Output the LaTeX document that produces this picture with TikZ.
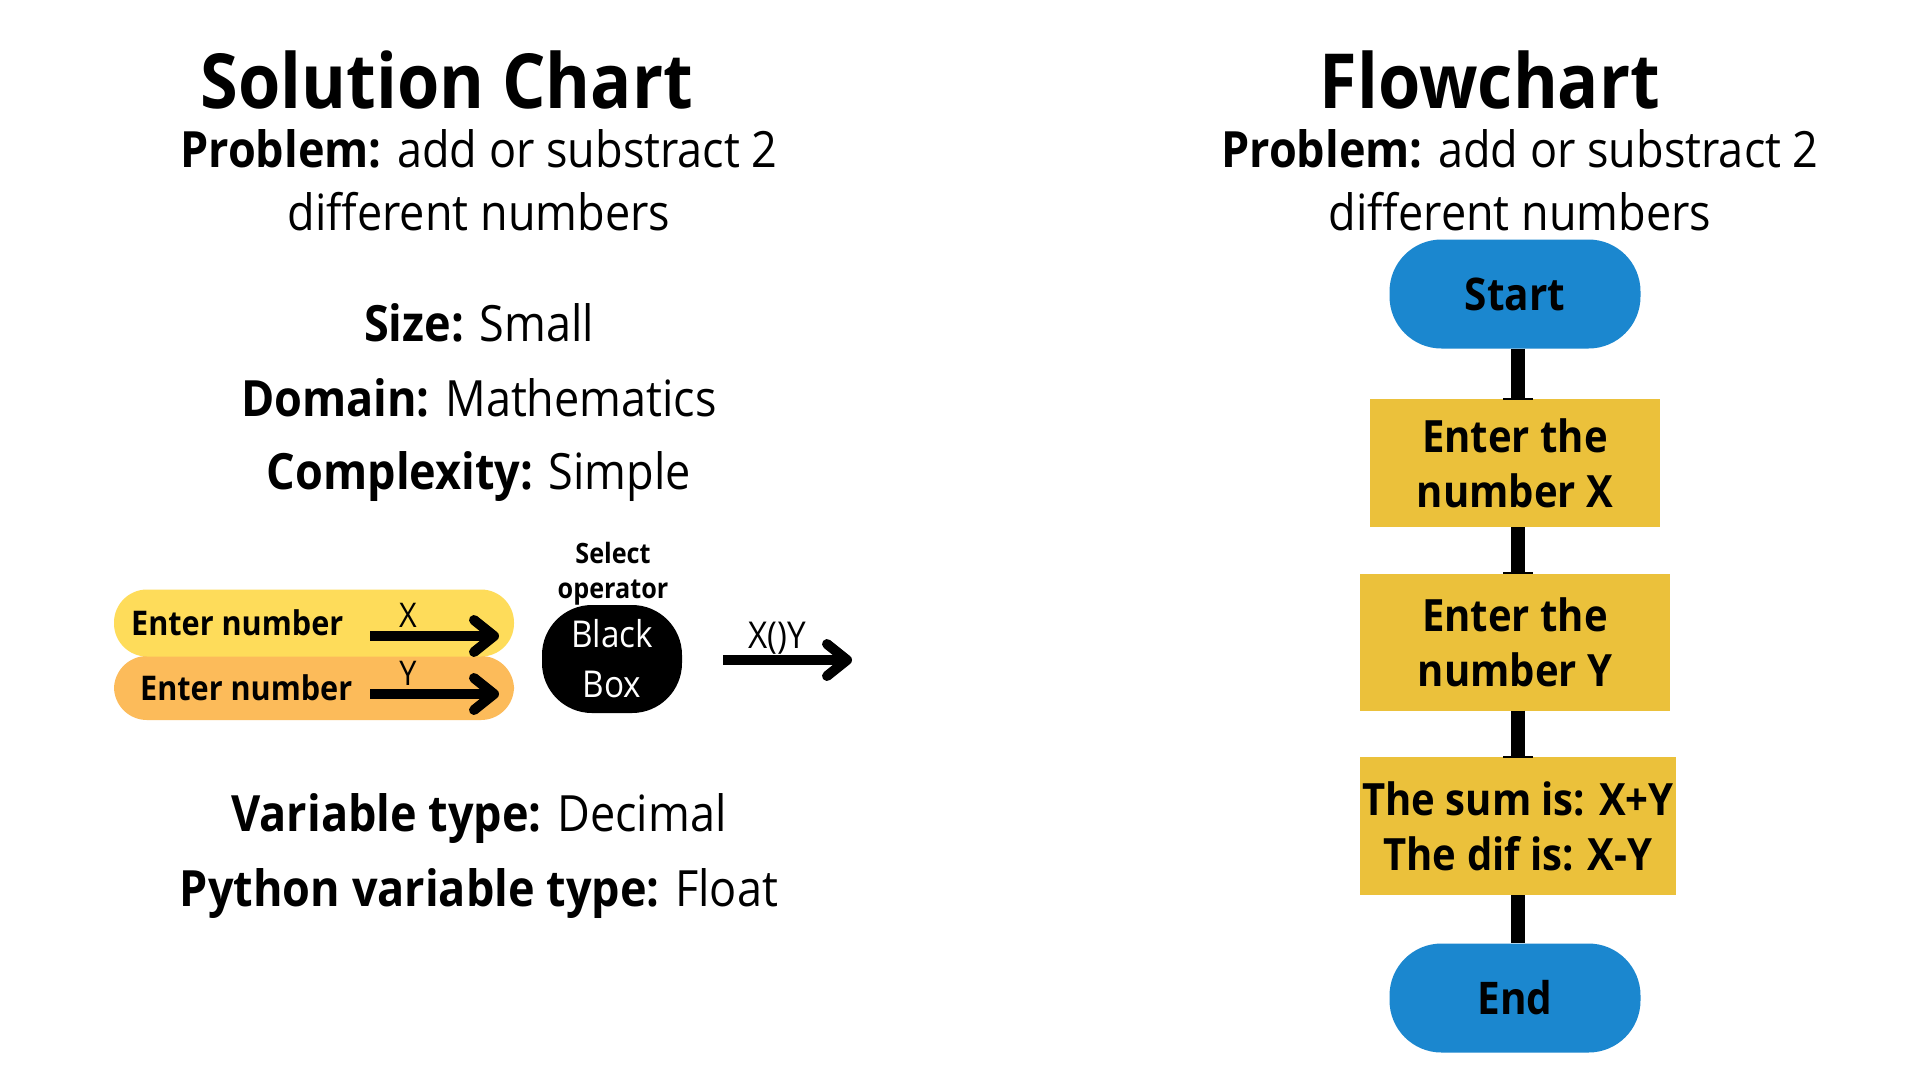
\documentclass[tikz,border=0pt]{standalone}
\usepackage{fontspec}
\setmainfont{Open Sans}[FakeStretch=0.9]
\usetikzlibrary{arrows.meta}
\definecolor{fcblue}{RGB}{27,135,207}
\definecolor{fcyellow}{RGB}{235,193,59}
\definecolor{pillyellow}{RGB}{254,220,90}
\definecolor{pillorange}{RGB}{252,187,90}
\begin{document}
\begin{tikzpicture}[x=1pt,y=-1pt,
  title/.style={font=\fontsize{76}{90}\selectfont\bfseries, anchor=base, inner sep=0},
  body/.style={font=\fontsize{50}{62}\selectfont, anchor=base, inner sep=0},
  terminal/.style={fill=fcblue, rounded corners=52pt, minimum width=251pt, minimum height=109pt, inner sep=0, font=\fontsize{45}{55}\selectfont\bfseries},
  process/.style={fill=fcyellow, inner sep=0, align=center, font=\fontsize{44.5}{55}\selectfont\bfseries},
  conn/.style={line width=14pt},
  tick/.style={line width=2pt},
  pill/.style={rounded corners=33pt, minimum width=400pt, inner sep=0},
  pilltext/.style={font=\fontsize{34}{40}\selectfont\bfseries, anchor=base west, inner sep=0},
  lbl/.style={font=\fontsize{34}{40}\selectfont, inner sep=0},
  flowarrow/.style={line width=10pt, -{Straight Barb[length=20pt, width=32pt, round]}},
  blackbox/.style={fill=black, text=white, rounded corners=50pt, minimum width=140pt, minimum height=108pt, inner sep=0, align=center, font=\fontsize{37}{50}\selectfont}
]
\fill[white] (0,0) rectangle (1920,1080);
\useasboundingbox (0,0) rectangle (1920,1080);

% ---------- Left: Solution chart ----------
\node[title] (ltitle) at (447,108) {Solution Chart};
\node[body] (lprob1) at (479,167) {\textbf{Problem:} add or substract 2};
\node[body] (lprob2) at (479,230) {different numbers};
\node[body] (size) at (479,341) {\textbf{Size:} Small};
\node[body] (domain) at (479,416) {\textbf{Domain:} Mathematics};
\node[body] (cplx) at (479,489) {\textbf{Complexity:} Simple};
\node[body] (vtype) at (479,831) {\textbf{Variable type:} Decimal};
\node[body] (ptype) at (479,906) {\textbf{Python variable type:} Float};

\node[pill, fill=pillorange, minimum height=64pt] (pillY) at (314,688) {};
\node[pill, fill=pillyellow, minimum height=67pt] (pillX) at (314,623) {};
\node[pilltext] (enterX) at (131,635) {Enter number};
\node[pilltext] (enterY) at (140,700) {Enter number};

\coordinate (xs) at (370,636);
\coordinate (xe) at (499,636);
\coordinate (ys) at (370,694);
\coordinate (ye) at (499,694);
\draw[flowarrow] (xs) -- (xe);
\draw[flowarrow] (ys) -- (ye);
\node[lbl] (lx) at (408,615) {X};
\node[lbl] (ly) at (408,673) {Y};

\node[blackbox] (bb) at (612,659) {Black\\Box};
\node[font=\fontsize{28}{35}\selectfont\bfseries, align=center, inner sep=0] (sel) at (613,574) {Select\\operator};

\coordinate (os) at (723,660);
\coordinate (oe) at (852,660);
\draw[flowarrow] (os) -- (oe);
\node[lbl, font=\fontsize{37}{44}\selectfont] (lxy) at (777,638) {X()Y};

% ---------- Right: Flowchart ----------
\node[title] (rtitle) at (1490,108) {Flowchart};
\node[body] (rprob1) at (1520,167) {\textbf{Problem:} add or substract 2};
\node[body] (rprob2) at (1520,230) {different numbers};

\node[terminal] (start) at (1515,294) {Start};
\node[process, minimum width=290pt, minimum height=128pt] (b1) at (1515,463) {Enter the\\number X};
\node[process, minimum width=310pt, minimum height=137pt] (b2) at (1515,642) {Enter the\\number Y};
\node[process, minimum width=316pt, minimum height=138pt] (b3) at (1518,826) {The sum is: X+Y\\The dif is: X-Y};
\node[terminal] (end) at (1515,998) {End};

\draw[conn] ([xshift=3pt]start.south) -- ([xshift=3pt]b1.north);
\draw[conn] ([xshift=3pt]b1.south) -- ([xshift=3pt]b2.north);
\draw[conn] ([xshift=3pt]b2.south) -- ([xshift=3pt]b2.south |- b3.north);
\draw[conn] ([xshift=3pt]b2.south |- b3.south) -- ([xshift=3pt]b2.south |- end.north);
\draw[tick] ([xshift=-12pt]b1.north) -- ([xshift=18pt]b1.north);
\draw[tick] ([xshift=-12pt]b2.north) -- ([xshift=18pt]b2.north);
\draw[tick] ([xshift=-12pt]b2.south |- b3.north) -- ([xshift=18pt]b2.south |- b3.north);
\end{tikzpicture}
\end{document}
